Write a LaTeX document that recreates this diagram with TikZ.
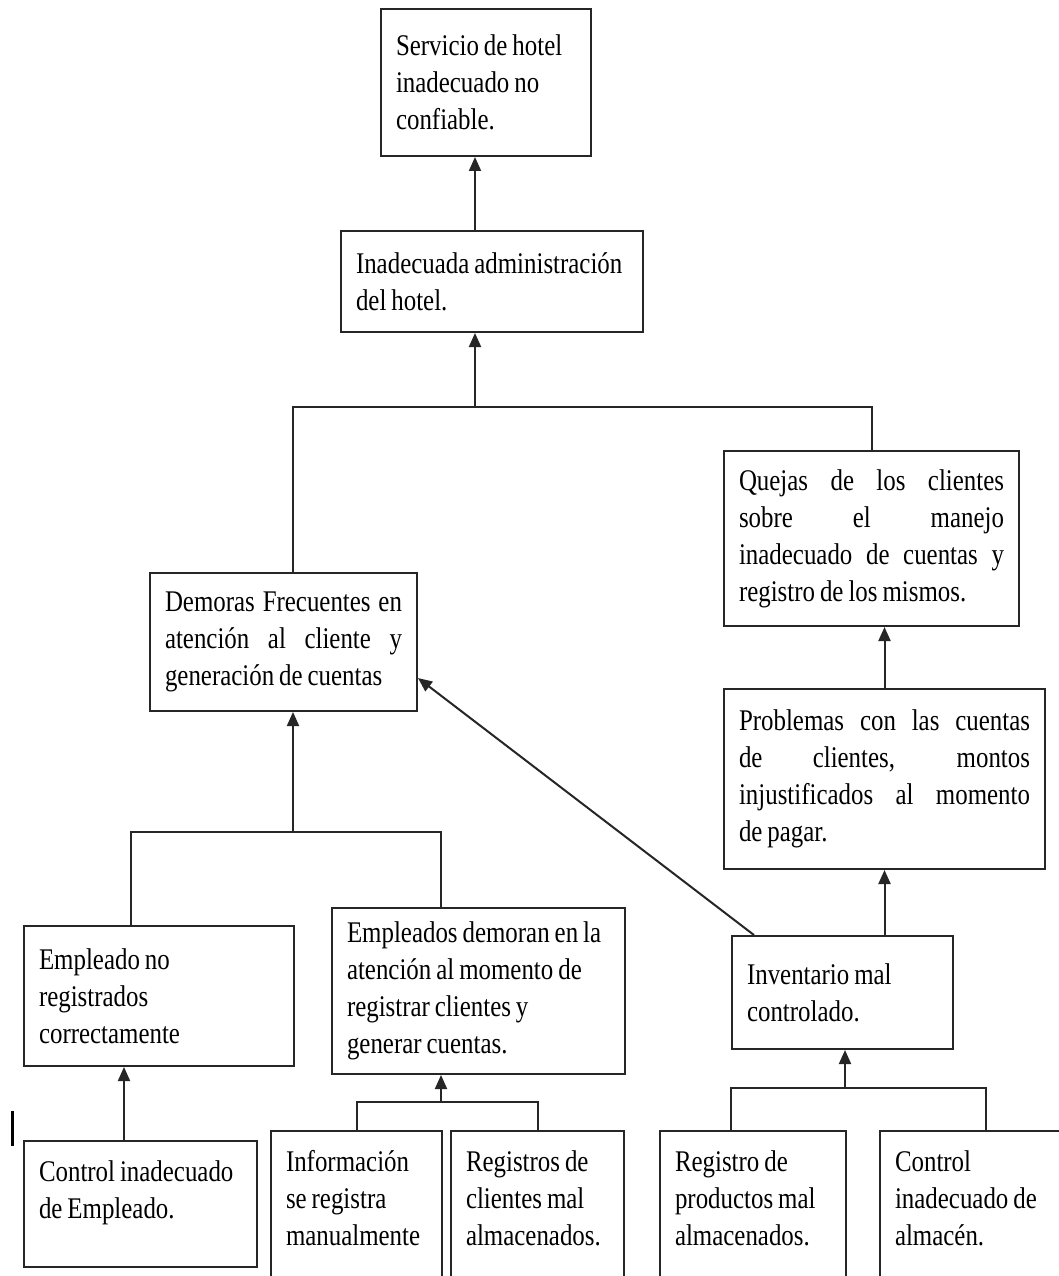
\documentclass[tikz,border=0pt]{standalone}
\usepackage{fontspec}
\setmainfont{Liberation Serif}[FakeStretch=0.83, WordSpace=0.8]
\usepackage{tikz}
\usetikzlibrary{arrows.meta}

\begin{document}
\begin{tikzpicture}[
  x=1pt, y=-1pt,
  font=\fontsize{30}{37}\selectfont,
  box/.style 2 args={
     rectangle, draw=black!85, line width=2pt,
     fill=white, anchor=north west,
     inner xsep=15pt, inner ysep=6pt,
     text width=#1, align=flush left,
     minimum height=#2},
  cutbox/.style={
     rectangle, draw=black!85, line width=2pt,
     fill=white, anchor=north west,
     inner xsep=15pt, inner ysep=18pt,
     text width=#1, align=flush left,
     text height=22pt, text depth=200pt},
  line/.style={draw=black!85, line width=2pt},
  arrow/.style={line, -{Triangle[length=14pt,width=12pt]}}]
\fill[white] (0,0) rectangle (1059,1276);
\useasboundingbox (0,0) rectangle (1059,1276);
\clip (0,0) rectangle (1059,1276);
% effects
\node[box={180pt}{147pt}] (serv)  at (380,8)   {Servicio de hotel\\inadecuado no\\confiable.};
\node[box={272pt}{101pt}] (admin) at (340,230) {Inadecuada administración\\del hotel.};
\node[box={265pt}{175pt}, align=justify] (quejas) at (723,450)
  {Quejas de los clientes\linebreak sobre el manejo\linebreak inadecuado de cuentas y\linebreak registro de los mismos.};
\node[box={237pt}{138pt}, align=justify] (demo) at (149,572)
  {Demoras Frecuentes en\linebreak atención al cliente y\linebreak generación de cuentas};
\node[box={291pt}{180pt}, align=justify] (probl) at (723,688)
  {Problemas con las cuentas\linebreak de clientes, montos\linebreak injustificados al momento\linebreak de pagar.};
% causes
\node[box={263pt}{166pt}] (empd) at (331,907) {Empleados demoran en la\\atención al momento de\\registrar clientes y\\generar cuentas.};
\node[box={240pt}{140pt}] (emp)  at (23,925)  {Empleado no\\registrados\\correctamente};
\node[box={191pt}{113pt}] (inv)  at (731,935) {Inventario mal\\controlado.};
% root causes
\node[cutbox={203pt}, text depth=68pt] (ctrl) at (23,1140) {Control inadecuado\\de Empleado.};
\node[cutbox={141pt}] (info) at (270,1130) {Información\\se registra\\manualmente};
\node[cutbox={143pt}] (regc) at (450,1130) {Registros de\\clientes mal\\almacenados.};
\node[cutbox={156pt}] (regp) at (659,1130) {Registro de\\productos mal\\almacenados.};
\node[cutbox={170pt}] (alm)  at (879,1130) {Control\\inadecuado de\\almacén.};
% junctions
\coordinate (top)  at (475,407);
\coordinate (topl) at (293,407);
\coordinate (topr) at (872,407);
\coordinate (mid)  at (293,832);
\coordinate (midl) at (131,832);
\coordinate (midr) at (441,832);
\coordinate (low)  at (441,1102);
\coordinate (inb)  at (845,1088);
\coordinate (inbl) at (731,1088);
\coordinate (inbr) at (986,1088);
\coordinate (emb)  at (124,1140);
% connectors
\draw[arrow] (top |- admin.north) -- (top |- serv.south);
\draw[arrow] (top) -- (top |- admin.south);
\draw[line] (topl |- demo.north) -- (topl) -- (topr) -- (topr |- quejas.north);
\draw[arrow] (probl.north) -- (probl.north |- quejas.south);
\draw[arrow] (probl.south |- inv.north) -- (probl.south);
\draw[arrow] (mid) -- (mid |- demo.south);
\draw[line] (midl |- emp.north) -- (midl) -- (midr) -- (midr |- empd.north);
\draw[arrow] (low) -- (low |- empd.south);
\draw[line] (info.north) |- (low) -| (regc.north);
\draw[arrow] (emb |- ctrl.north) -- (emb |- emp.south);
\draw[arrow] (inb) -- (inb |- inv.south);
\draw[line] (inbl |- regp.north) -- (inbl) -- (inbr) -- (inbr |- alm.north);
\draw[arrow] (inv.147.7) -- (demo.-15);
% stray mark
\draw[line width=3pt] (12,1111) -- (12,1146);
\end{tikzpicture}
\end{document}
